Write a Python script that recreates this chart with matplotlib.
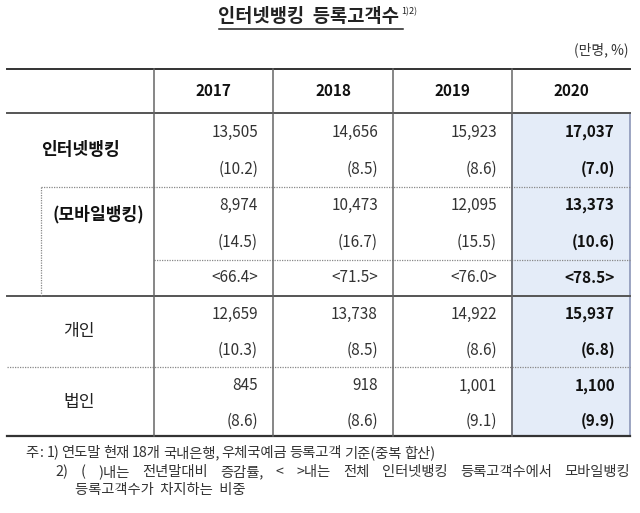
import matplotlib
matplotlib.use("Agg")
import matplotlib.pyplot as plt
from matplotlib.patches import Rectangle

plt.rcParams['font.family'] = ['Noto Sans CJK KR', 'DejaVu Sans']

# data
years = ['2017', '2018', '2019', '2020']
internet = [13505, 14656, 15923, 17037]
internet_growth = [10.2, 8.5, 8.6, 7.0]
mobile = [8974, 10473, 12095, 13373]
mobile_growth = [14.5, 16.7, 15.5, 10.6]
mobile_share = [66.4, 71.5, 76.0, 78.5]
personal = [12659, 13738, 14922, 15937]
personal_growth = [10.3, 8.5, 8.6, 6.8]
corporate = [845, 918, 1001, 1100]
corporate_growth = [8.6, 8.6, 9.1, 9.9]

title = '인터넷뱅킹  등록고객수'
unit = '(만명, %)'
note1 = ['주', ':', '1)', '연도말', '현재', '18개', '국내은행,', '우체국예금', '등록고객', '기준(중복', '합산)']
note2 = ['2)', '(', ')내는', '전년말대비', '증감률,', '<', '>내는', '전체', '인터넷뱅킹', '등록고객수에서', '모바일뱅킹']
note3 = '등록고객수가  차지하는  비중'

W, H = 640, 513
fig = plt.figure(figsize=(6.4, 5.13), dpi=100)
ax = fig.add_axes([0, 0, 1, 1])
ax.set_xlim(0, W)
ax.set_ylim(H, 0)
ax.axis('off')

left, right = 7, 630
col_x = [154, 273, 393, 512, 630]
top, head_bot, bottom = 69, 113, 436
dark = '#555555'
grid = '#666666'
fs = 11
lfs = 12.3

# highlighted 2020 column
ax.add_patch(Rectangle((col_x[3], head_bot), col_x[4] - col_x[3], bottom - head_bot,
                       facecolor='#e4ecf8', edgecolor='#8c96b8', lw=1.2, zorder=0))

# horizontal rules
ax.plot([left, right], [top, top], color='#333333', lw=1.4)
ax.plot([left, right], [head_bot, head_bot], color=dark, lw=1.4)
ax.plot([left, right], [296, 296], color=dark, lw=1.4)
ax.plot([left, right], [bottom, bottom], color='#333333', lw=1.6)
ax.plot([41, right], [187, 187], color='#888888', lw=0.9, ls=(0, (1, 1)))
ax.plot([col_x[0], right], [260, 260], color='#888888', lw=0.9, ls=(0, (1, 1)))
ax.plot([left, right], [367, 367], color='#888888', lw=0.9, ls=(0, (1, 1)))
ax.plot([41, 41], [187, 296], color='#888888', lw=0.9, ls=(0, (1, 1)))

# vertical rules
for x in col_x[:4]:
    ax.plot([x, x], [top, bottom], color=grid, lw=1.1)

fig.canvas.draw()
inv = ax.transData.inverted()


def width_of(t):
    bb = t.get_window_extent().transformed(inv)
    return bb.x1 - bb.x0


def justify(words, x0, x1, y, size):
    texts = [ax.text(x0, y, w, ha='left', va='center', fontsize=size, color='#333333') for w in words]
    fig.canvas.draw()
    ws = [width_of(t) for t in texts]
    gap = (x1 - x0 - sum(ws)) / (len(words) - 1)
    x = x0
    for t, w in zip(texts, ws):
        t.set_x(x)
        x += w + gap


# title and unit
t = ax.text(309, 17, title, ha='center', va='center', fontsize=13.5, fontweight='bold', color='#222222')
fig.canvas.draw()
bb = t.get_window_extent().transformed(inv)
ax.plot([bb.x0, bb.x1 + 3], [28.5, 28.5], color='#222222', lw=1.1)
ax.text(bb.x1 + 2, 12, '1)2)', ha='left', va='center', fontsize=6.5, color='#222222')
ax.text(628, 50, unit, ha='right', va='center', fontsize=10, color='#333333')

# header
for i, y in enumerate(years):
    cx = (col_x[i] + col_x[i + 1]) / 2
    ax.text(cx, 91, y, ha='center', va='center', fontsize=fs, fontweight='bold', color='#111111')

# row labels
ax.text(80, 150, '인터넷뱅킹', ha='center', va='center', fontsize=lfs, fontweight='bold', color='#111111')
ax.text(98, 214, '(모바일뱅킹)', ha='center', va='center', fontsize=lfs, fontweight='bold', color='#111111')
ax.text(79, 331, '개인', ha='center', va='center', fontsize=lfs, color='#222222')
ax.text(79, 402, '법인', ha='center', va='center', fontsize=lfs, color='#222222')

rows = [
    (132, [f'{v:,}' for v in internet]),
    (169, [f'({g:.1f})' for g in internet_growth]),
    (205, [f'{v:,}' for v in mobile]),
    (242, [f'({g:.1f})' for g in mobile_growth]),
    (278, [f'<{s:.1f}>' for s in mobile_share]),
    (314, [f'{v:,}' for v in personal]),
    (350, [f'({g:.1f})' for g in personal_growth]),
    (386, [f'{v:,}' for v in corporate]),
    (421, [f'({g:.1f})' for g in corporate_growth]),
]
for y, vals in rows:
    for i, s in enumerate(vals):
        bold = i == 3
        ax.text(col_x[i + 1] - 15, y, s, ha='right', va='center', fontsize=fs,
                fontweight='bold' if bold else 'normal', color='#111111' if bold else '#333333')

# footnotes
justify(note1, 25, 435, 453, 10.3)
justify(note2, 55, 630, 472, 10.3)
ax.text(75, 490, note3, ha='left', va='center', fontsize=10.3, color='#333333')

fig.savefig('out.png', dpi=100)
